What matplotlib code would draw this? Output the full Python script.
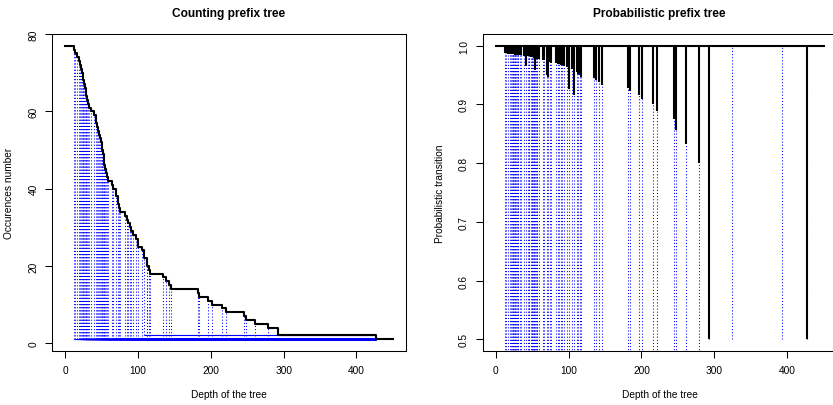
import numpy as np
import matplotlib
matplotlib.use("Agg")
import matplotlib.pyplot as plt

plt.rcParams['font.family'] = ['Liberation Sans', 'DejaVu Sans']

# main path of the prefix tree (77 sequences, deepest leaf at depth 450)
root_count = 77
tree_depth = 450
leaf_depth = 427  # side branches are drawn up to here

# depths where sequences leave the main path, and occurrences left after it
branch_depth = [12, 14, 17, 19, 21, 22, 23, 24, 25, 26, 27, 28, 29, 30, 31, 33, 35, 39,
                42, 44, 45, 46, 48, 49, 50, 51, 52, 53, 54, 55, 56, 57, 59, 65, 66, 70,
                72, 74, 76, 82, 85, 87, 89, 91, 93, 98, 100, 105, 108, 112, 113, 115, 117,
                135, 138, 142, 146, 182, 184, 196, 201, 216, 221, 245, 248, 261, 279,
                292, 427]
count_after = [76, 75, 74, 73, 72, 71, 70, 69, 68, 67, 66, 65, 64, 63, 62, 61, 60, 59,
               57, 56, 55, 54, 53, 52, 51, 50, 49, 48, 46, 45, 44, 43, 42, 41, 40, 38,
               36, 35, 34, 33, 32, 31, 30, 29, 28, 27, 25, 24, 22, 21, 20, 19, 18,
               17, 16, 15, 14, 13, 12, 11, 10, 9, 8, 7, 6, 5, 4,
               2, 1]

# side branches that carry two sequences, and the depth where they split
pair_start = [108, 292]
pair_split = [393, 324]
pair_split_prob = [0.5, 0.5]

branch_d = np.array(branch_depth)
after = np.array(count_after)
before = np.concatenate([[root_count], after[:-1]])
child = np.where(np.isin(branch_d, pair_start), 2, 1)

blue = '#0000ff'
dotted = (0, (1.0, 2.0))

fig = plt.figure(figsize=(8.33, 4.06), dpi=100)
W, H = 833, 406
ax1 = fig.add_axes([52 / W, 1 - 352 / H, 354 / W, 317 / H])
ax2 = fig.add_axes([482.7 / W, 1 - 352 / H, 354 / W, 317 / H])

# ---- counting prefix tree
ax1.hlines(child, branch_d, leaf_depth, colors=blue, lw=0.8, zorder=2)
ax1.vlines(branch_d, child, after, colors=blue, linestyles=[dotted], lw=0.75, zorder=2)
sx = np.concatenate([[0], branch_d, [tree_depth]])
sy = np.concatenate([[root_count], after, [after[-1]]])
ax1.step(sx, sy, where='post', color='black', lw=1.5, zorder=3)
ax1.set_xlim(-18, 468)
ax1.set_ylim(-2.04, 80.04)
ax1.set_yticks([0, 20, 40, 60, 80])
ax1.set_ylabel('Occurences number', fontsize=7.3, labelpad=10)
ax1.set_title('Counting prefix tree', fontsize=8.6, fontweight='bold', pad=13)

# ---- probabilistic prefix tree
ax2.vlines(branch_d, child / before, 1, colors=blue, linestyles=[dotted], lw=0.75, zorder=2)
ax2.vlines(pair_split, pair_split_prob, 1, colors=blue, linestyles=[dotted], lw=0.75, zorder=2)
ax2.vlines(branch_d, after / before, 1, colors='black', lw=1.5, zorder=3)
ax2.plot([0, tree_depth], [1, 1], color='black', lw=1.5, zorder=3)
ax2.set_xlim(-18, 468)
ax2.set_ylim(0.48, 1.02)
ax2.set_yticks([0.5, 0.6, 0.7, 0.8, 0.9, 1.0])
ax2.set_yticklabels(['0.5', '0.6', '0.7', '0.8', '0.9', '1.0'])
ax2.set_ylabel('Probabilistic transition', fontsize=7.3, labelpad=10)
ax2.set_title('Probabilistic prefix tree', fontsize=8.6, fontweight='bold', pad=13)

for ax in (ax1, ax2):
    ax.set_xticks([0, 100, 200, 300, 400])
    ax.set_xlabel('Depth of the tree', fontsize=7.3, labelpad=10)
    ax.tick_params(direction='out', length=4.8, width=0.75, labelsize=7.3, pad=5)
    for lab in ax.get_yticklabels():
        lab.set_rotation(90)
        lab.set_va('center')
    for s in ax.spines.values():
        s.set_linewidth(0.75)

fig.savefig('out.png', dpi=100)
